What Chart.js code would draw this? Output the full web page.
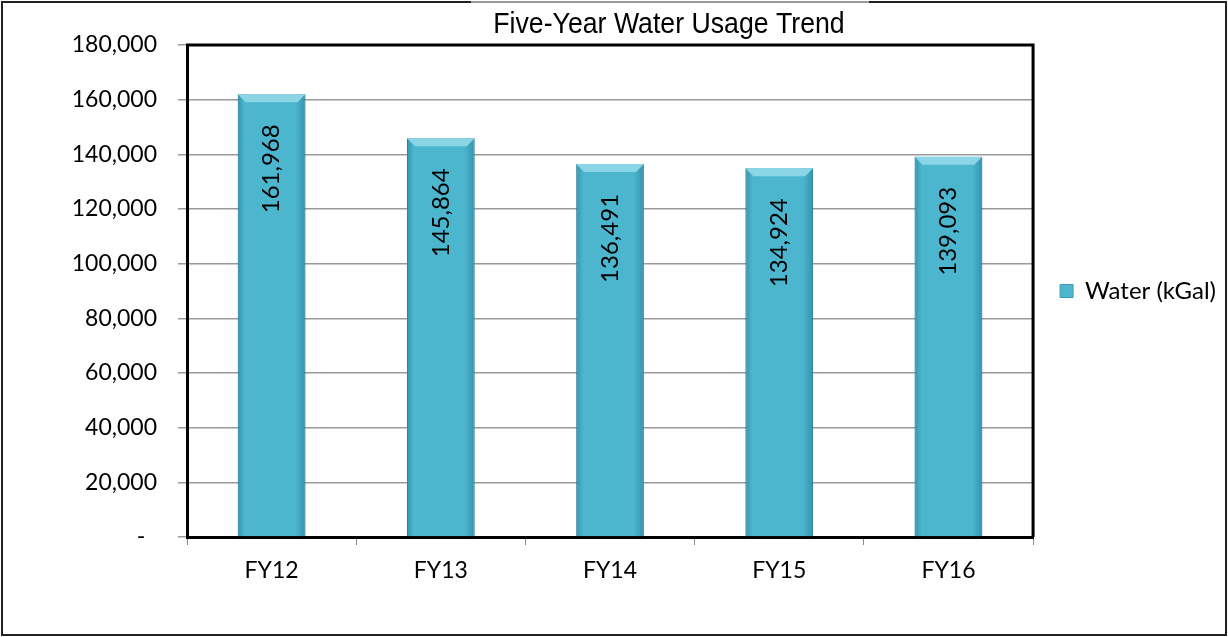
<!DOCTYPE html>
<html>
<head>
<meta charset="utf-8">
<script src="https://cdn.jsdelivr.net/npm/chart.js@4"></script>
<style>
  html, body { margin: 0; padding: 0; background: #fff; }
  #wrap { width: 1228px; height: 637px; }
</style>
</head>
<body>
<div id="wrap"><canvas id="waterChart" width="1228" height="637"></canvas></div>
<script>
// chart data
const years = ["FY12", "FY13", "FY14", "FY15", "FY16"];
const waterKGal = [161968, 145864, 136491, 134924, 139093];
const seriesName = "Water (kGal)";
const chartTitle = "Five-Year Water Usage Trend";
const yMax = 180000;
const yStep = 20000;

const LABEL_FONT = "Lato, 'Open Sans', sans-serif";
const BAR_BLUE = "#4bb6ce";

function fmt(v) {
  return v === 0 ? "-  " : v.toLocaleString("en-US");
}

// outer frame + title box
const framePlugin = {
  id: "frame",
  afterDraw(chart) {
    const ctx = chart.ctx;
    const a = chart.chartArea;
    ctx.save();
    // plot border (top + right, left/bottom come from the axes)
    ctx.strokeStyle = "#000";
    ctx.lineWidth = 3;
    ctx.beginPath();
    ctx.moveTo(a.left - 1, a.top);
    ctx.lineTo(a.right, a.top);
    ctx.lineTo(a.right, a.bottom);
    ctx.stroke();

    // outer frame
    ctx.strokeStyle = "#222";
    ctx.lineWidth = 2;
    ctx.strokeRect(2, 2, chart.width - 4, chart.height - 4);

    // title box
    ctx.fillStyle = "#fff";
    ctx.fillRect(471, 1, 398, a.top - 3);
    ctx.strokeStyle = "#9a9a9a";
    ctx.lineWidth = 2;
    ctx.beginPath();
    ctx.moveTo(471, 2);
    ctx.lineTo(869, 2);
    ctx.stroke();
    ctx.fillStyle = "#000";
    ctx.font = "29px 'Liberation Sans', Arial, sans-serif";
    ctx.textAlign = "center";
    ctx.textBaseline = "middle";
    ctx.translate(669, 25);
    ctx.scale(0.92, 1);
    ctx.fillText(chartTitle, 0, 0);
    ctx.restore();
  }
};

// bevel look + rotated value labels
const barLabelPlugin = {
  id: "barLabels",
  afterDatasetsDraw(chart) {
    const ctx = chart.ctx;
    const meta = chart.getDatasetMeta(0);
    ctx.save();
    meta.data.forEach((bar, i) => {
      const l = bar.x - bar.width / 2;
      const r = bar.x + bar.width / 2;
      const t = bar.y;
      const b = bar.base;

      const g = ctx.createLinearGradient(l, 0, r, 0);
      g.addColorStop(0, "rgba(0,70,95,0.3)");
      g.addColorStop(0.1, "rgba(0,70,95,0)");
      g.addColorStop(0.85, "rgba(0,70,95,0)");
      g.addColorStop(1, "rgba(0,70,95,0.3)");
      ctx.fillStyle = g;
      ctx.fillRect(l, t, r - l, b - t);

      ctx.fillStyle = "#8ad5e6";
      ctx.beginPath();
      ctx.moveTo(l, t);
      ctx.lineTo(r, t);
      ctx.lineTo(r - 8, t + 8);
      ctx.lineTo(l + 8, t + 8);
      ctx.closePath();
      ctx.fill();

      ctx.fillStyle = "#000";
      ctx.font = "24px " + LABEL_FONT;
      ctx.translate(bar.x, t + 30);
      ctx.rotate(-Math.PI / 2);
      ctx.textAlign = "right";
      ctx.textBaseline = "middle";
      ctx.fillText(fmt(waterKGal[i]), 0, 0);
      ctx.setTransform(1, 0, 0, 1, 0, 0);
    });
    ctx.restore();
  }
};

new Chart(document.getElementById("waterChart"), {
  type: "bar",
  data: {
    labels: years,
    datasets: [{
      label: seriesName,
      data: waterKGal,
      backgroundColor: BAR_BLUE,
      borderColor: "#3b9cb4",
      borderWidth: 1,
      barPercentage: 0.4,
      categoryPercentage: 1
    }]
  },
  options: {
    responsive: false,
    animation: false,
    devicePixelRatio: 1,
    layout: { padding: { top: 45, right: 2, bottom: 0, left: 0 } },
    plugins: {
      title: { display: false },
      tooltip: { enabled: false },
      legend: {
        position: "right",
        fullSize: false,
        labels: {
          color: "#000",
          font: { family: LABEL_FONT, size: 24 },
          boxWidth: 13,
          boxHeight: 13,
          padding: 10
        }
      }
    },
    scales: {
      x: {
        grid: {
          offset: true,
          drawOnChartArea: false,
          color: "#8a8a8a",
          tickLength: 8
        },
        border: { color: "#000", width: 3 },
        ticks: {
          color: "#000",
          font: { family: LABEL_FONT, size: 23 },
          padding: 12
        },
        afterFit: s => { s.height = 100; }
      },
      y: {
        min: 0,
        max: yMax,
        grid: { color: "#9a9a9a", lineWidth: 1.5, tickLength: 9 },
        border: { color: "#000", width: 3 },
        ticks: {
          stepSize: yStep,
          color: "#000",
          font: { family: LABEL_FONT, size: 23 },
          padding: 21,
          callback: v => fmt(v)
        },
        afterFit: s => { s.width = 187; }
      },
      spacer: {
        position: "right",
        display: true,
        grid: { display: false },
        border: { display: false },
        ticks: { display: false },
        afterFit: s => { s.width = 17; }
      }
    }
  },
  plugins: [barLabelPlugin, framePlugin]
});
</script>
</body>
</html>
